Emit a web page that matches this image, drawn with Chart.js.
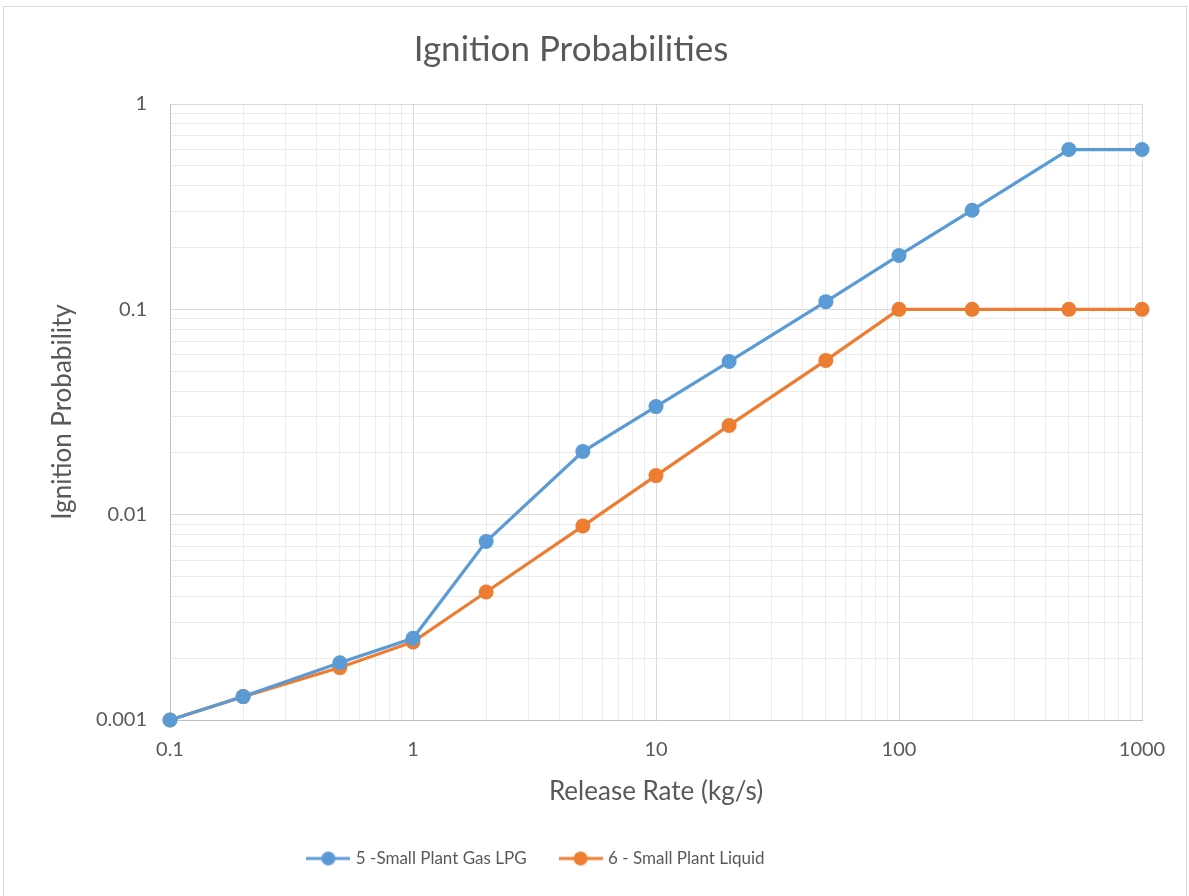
<!DOCTYPE html>
<html>
<head>
<meta charset="utf-8">
<script src="https://cdn.jsdelivr.net/npm/chart.js@4.4.0/dist/chart.umd.min.js"></script>
<style>
  html, body { margin: 0; padding: 0; background: #ffffff; }
  canvas { display: block; }
</style>
</head>
<body>
<canvas id="c" width="1189" height="896"></canvas>
<script>
// ---- data ----
const chartTitle = 'Ignition Probabilities';
const xAxisTitle = 'Release Rate (kg/s)';
const yAxisTitle = 'Ignition Probability';
const releaseRate = [0.1, 0.2, 0.5, 1, 2, 5, 10, 20, 50, 100, 200, 500, 1000];
const gasLPG = [0.001, 0.0013, 0.0019, 0.0025, 0.0074, 0.0203, 0.0336, 0.0557, 0.109, 0.183, 0.304, 0.6, 0.6];
const liquid = [0.001, 0.0013, 0.0018, 0.0024, 0.0042, 0.0088, 0.0155, 0.0272, 0.0564, 0.1, 0.1, 0.1, 0.1];
const seriesNames = ['5 -Small Plant Gas LPG', '6 - Small Plant Liquid'];
const seriesColors = ['#5B9BD5', '#ED7D31'];
const xDecades = [0.1, 1, 10, 100, 1000];
const xTickLabels = ['0.1', '1', '10', '100', '1000'];
const yDecades = [0.001, 0.01, 0.1, 1];
const yTickLabels = ['0.001', '0.01', '0.1', '1'];
const minorMultiples = [1, 2, 3, 4, 5, 6, 7, 8, 9];

function decadeTicks(decades) {
  const out = [];
  for (let i = 0; i < decades.length - 1; i++) {
    for (const m of minorMultiples) out.push(m * decades[i]);
  }
  out.push(decades[decades.length - 1]);
  return out;
}
function majorIndex(v, decades) {
  return decades.findIndex(d => Math.abs(v / d - 1) < 1e-9);
}

const textColor = '#595959';
const majorGrid = '#d9d9d9';
const minorGrid = '#ebebeb';

function legendImage(color) {
  const c = document.createElement('canvas');
  c.width = 44; c.height = 18;
  const g = c.getContext('2d');
  g.strokeStyle = color; g.lineWidth = 3;
  g.beginPath(); g.moveTo(0, 9); g.lineTo(44, 9); g.stroke();
  g.fillStyle = color;
  g.beginPath(); g.arc(22, 9, 7, 0, Math.PI * 2); g.fill();
  return c;
}

const borderPlugin = {
  id: 'outerBorder',
  beforeDraw(chart) {
    const ctx = chart.ctx;
    ctx.save();
    ctx.strokeStyle = '#d9d9d9';
    ctx.lineWidth = 1;
    ctx.strokeRect(3.5, 6.5, 1183, 895);
    ctx.restore();
  }
};
const legendShift = {
  id: 'legendShift',
  afterLayout(chart) {
    if (chart.legend) { chart.legend.left -= 34; chart.legend.right -= 34; }
  }
};

function build() {
  Chart.defaults.font.family = 'Lato, "Open Sans", sans-serif';
  Chart.defaults.color = textColor;
  const images = seriesColors.map(legendImage);
  new Chart(document.getElementById('c'), {
    type: 'scatter',
    data: {
      datasets: [
        { label: seriesNames[0], data: releaseRate.map((x, i) => ({x, y: gasLPG[i]})) },
        { label: seriesNames[1], data: releaseRate.map((x, i) => ({x, y: liquid[i]})) }
      ].map((d, i) => Object.assign(d, {
        showLine: true,
        borderColor: seriesColors[i],
        backgroundColor: seriesColors[i],
        pointBackgroundColor: seriesColors[i],
        pointBorderColor: seriesColors[i],
        borderWidth: 3.2,
        pointRadius: 7.5,
        pointHoverRadius: 7.5,
        pointBorderWidth: 0,
        tension: 0,
        clip: false
      }))
    },
    options: {
      responsive: false,
      devicePixelRatio: 1,
      animation: false,
      layout: { padding: { left: 0, right: 47, top: 0, bottom: 19 } },
      plugins: {
        title: {
          display: true, text: chartTitle, color: textColor,
          font: { size: 35, weight: 'normal' },
          padding: { top: 29, bottom: 33 }
        },
        legend: {
          position: 'bottom',
          labels: {
            usePointStyle: true,
            pointStyleWidth: 38,
            padding: 35,
            color: textColor,
            font: { size: 17 },
            generateLabels(chart) {
              const items = Chart.defaults.plugins.legend.labels.generateLabels(chart);
              items.forEach((it, i) => { it.pointStyle = images[i]; });
              return items;
            }
          }
        },
        tooltip: { enabled: false }
      },
      scales: {
        x: {
          type: 'logarithmic',
          min: xDecades[0], max: xDecades[xDecades.length - 1],
          afterBuildTicks(scale) { scale.ticks = decadeTicks(xDecades).map(v => ({value: v, major: majorIndex(v, xDecades) >= 0})); },
          afterFit(scale) { scale.height = 95; },
          ticks: {
            autoSkip: false, maxRotation: 0, minRotation: 0, padding: 18,
            color: textColor, font: { size: 20 },
            callback(v) { const i = majorIndex(v, xDecades); return i >= 0 ? xTickLabels[i] : ''; }
          },
          grid: {
            drawTicks: false,
            color(ctx) { return ctx.tick && majorIndex(ctx.tick.value, xDecades) >= 0 ? majorGrid : minorGrid; },
            lineWidth: 1
          },
          border: { color: '#bfbfbf', width: 1 },
          title: { display: true, text: xAxisTitle, color: textColor, font: { size: 26 }, padding: { top: 0, bottom: 8 } }
        },
        y: {
          type: 'logarithmic',
          min: yDecades[0], max: yDecades[yDecades.length - 1],
          afterBuildTicks(scale) { scale.ticks = decadeTicks(yDecades).map(v => ({value: v, major: majorIndex(v, yDecades) >= 0})); },
          afterFit(scale) { scale.width = 170; },
          ticks: {
            autoSkip: false, padding: 23,
            color: textColor, font: { size: 20 },
            callback(v) { const i = majorIndex(v, yDecades); return i >= 0 ? yTickLabels[i] : ''; }
          },
          grid: {
            drawTicks: false,
            color(ctx) { return ctx.tick && majorIndex(ctx.tick.value, yDecades) >= 0 ? majorGrid : minorGrid; },
            lineWidth: 1
          },
          border: { color: '#bfbfbf', width: 1 },
          title: { display: true, text: yAxisTitle, color: textColor, font: { size: 26 }, padding: { top: 47, bottom: 0 } }
        }
      }
    },
    plugins: [borderPlugin, legendShift]
  });
}
if (document.fonts && document.fonts.load) {
  Promise.all([document.fonts.load('20px Lato')]).then(build, build);
} else { build(); }
</script>
</body>
</html>
